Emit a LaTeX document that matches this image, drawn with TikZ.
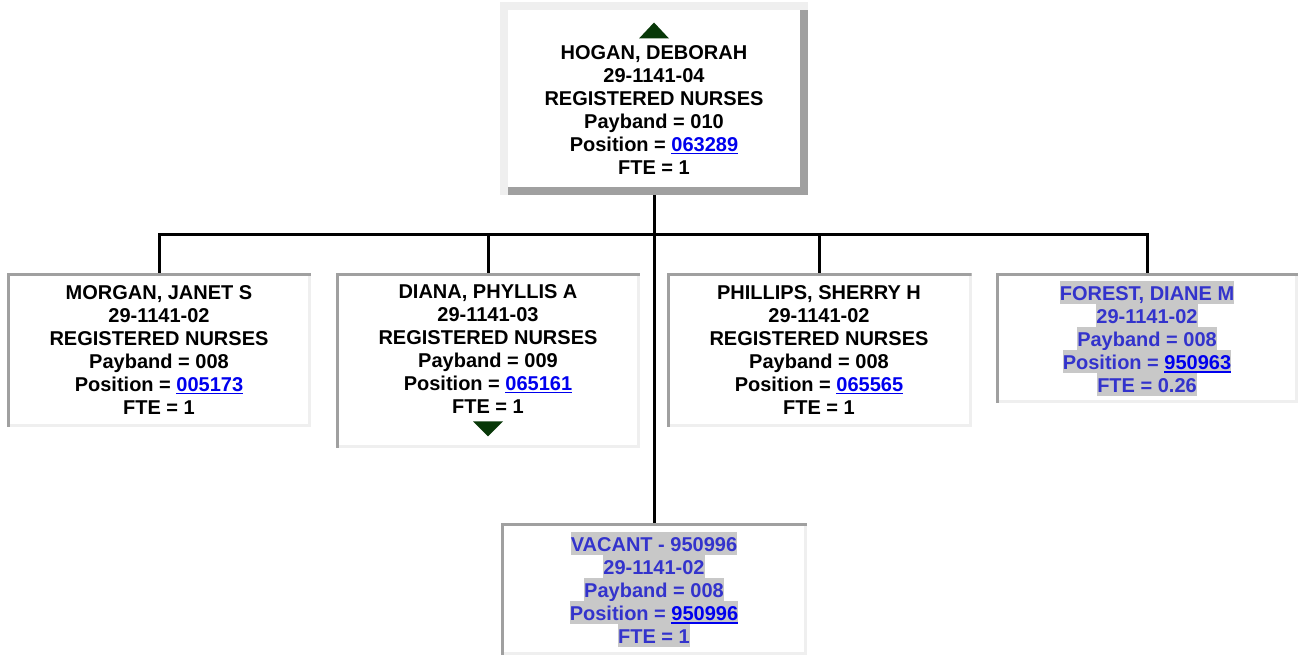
\documentclass[tikz,border=0pt]{standalone}
\usepackage{fontspec}
\setmainfont{Liberation Sans}

\definecolor{framedark}{HTML}{A0A0A0}
\definecolor{framelight}{HTML}{EFEFEF}
\definecolor{linkblue}{HTML}{0000EE}
\definecolor{vacantblue}{HTML}{3333CC}
\definecolor{hlgray}{HTML}{C8C8C8}
\definecolor{navgreen}{HTML}{083808}

% Box text
\newcommand{\orgfont}{\fontsize{20}{23}\selectfont\bfseries\lineskiplimit=-20pt\relax}
% Underlined position number
\newcommand{\poslink}[1]{\textcolor{linkblue}{\sbox0{#1}\rlap{\rule[-3pt]{\wd0}{1.8pt}}\usebox0}}
% Highlighted line
\newcommand{\hlline}[1]{{\fboxsep=0pt\colorbox{hlgray}{\rule[-3pt]{0pt}{23pt}#1}}}
% Navigation arrows
\newcommand{\uptri}{\raisebox{-2pt}{\tikz\fill[navgreen] (0pt,0pt) -- (30pt,0pt) -- (15pt,16pt) -- cycle;}}
\newcommand{\downtri}{\tikz\fill[navgreen] (0pt,15pt) -- (30pt,15pt) -- (15pt,0pt) -- cycle;}

\tikzset{
  headbox/.style={fill=framedark, inner sep=0pt, align=center, minimum width=308pt,
    path picture={
      \fill[framelight] (path picture bounding box.north west) rectangle ([yshift=-8pt]path picture bounding box.north east);
      \fill[framelight] (path picture bounding box.north west) rectangle ([xshift=8pt]path picture bounding box.south west);
      \fill[white] ([xshift=8pt,yshift=-8pt]path picture bounding box.north west) rectangle ([xshift=-8pt,yshift=8pt]path picture bounding box.south east);
    }},
  staffbox/.style={fill=framelight, inner sep=0pt, align=center, minimum width=304pt,
    path picture={
      \fill[framedark] (path picture bounding box.north west) rectangle ([yshift=-3pt]path picture bounding box.north east);
      \fill[framedark] (path picture bounding box.north west) rectangle ([xshift=3pt]path picture bounding box.south west);
      \fill[white] ([xshift=3pt,yshift=-3pt]path picture bounding box.north west) rectangle ([xshift=-3pt,yshift=3pt]path picture bounding box.south east);
    }},
  openbox/.style={staffbox, text=vacantblue},
  orgline/.style={line width=3pt},
}

\begin{document}
\begin{tikzpicture}[x=1pt, y=-1pt, every node/.style={font=\orgfont}]
  \useasboundingbox (0,0) rectangle (1299,655);

  % Supervisor
  \node[headbox, minimum height=193pt] (hogan) at (654,98.5)
    {\uptri\\HOGAN, DEBORAH\\29-1141-04\\REGISTERED NURSES\\Payband = 010\\Position = \poslink{063289}\\FTE = 1};

  % Direct reports
  \node[staffbox, minimum height=154pt] (morgan) at (159,350)
    {MORGAN, JANET S\\29-1141-02\\REGISTERED NURSES\\Payband = 008\\Position = \poslink{005173}\\FTE = 1};
  \node[staffbox, minimum height=175pt] (diana) at (488,360.5)
    {DIANA, PHYLLIS A\\29-1141-03\\REGISTERED NURSES\\Payband = 009\\Position = \poslink{065161}\\FTE = 1\\\downtri};
  \node[staffbox, minimum height=154pt, minimum width=305pt] (phillips) at (819,350)
    {PHILLIPS, SHERRY H\\29-1141-02\\REGISTERED NURSES\\Payband = 008\\Position = \poslink{065565}\\FTE = 1};
  \node[openbox, minimum height=130pt, minimum width=302pt] (forest) at (1147,338)
    {\hlline{FOREST, DIANE M}\\\hlline{29-1141-02}\\\hlline{Payband = 008}\\\hlline{Position = \poslink{950963}}\\\hlline{FTE = 0.26}};
  \node[openbox, minimum height=132pt, minimum width=306pt] (vacant) at (654,589)
    {\hlline{VACANT - 950996}\\\hlline{29-1141-02}\\\hlline{Payband = 008}\\\hlline{Position = \poslink{950996}}\\\hlline{FTE = 1}};

  % Connectors
  \coordinate (bar) at (654,235);
  \draw[orgline] (hogan.south) -- (vacant.north);
  \draw[orgline] (morgan.north) |- (bar) -| (forest.north);
  \foreach \n in {diana,phillips}
    \draw[orgline] (\n.north) -- (\n.north |- bar);
\end{tikzpicture}
\end{document}
